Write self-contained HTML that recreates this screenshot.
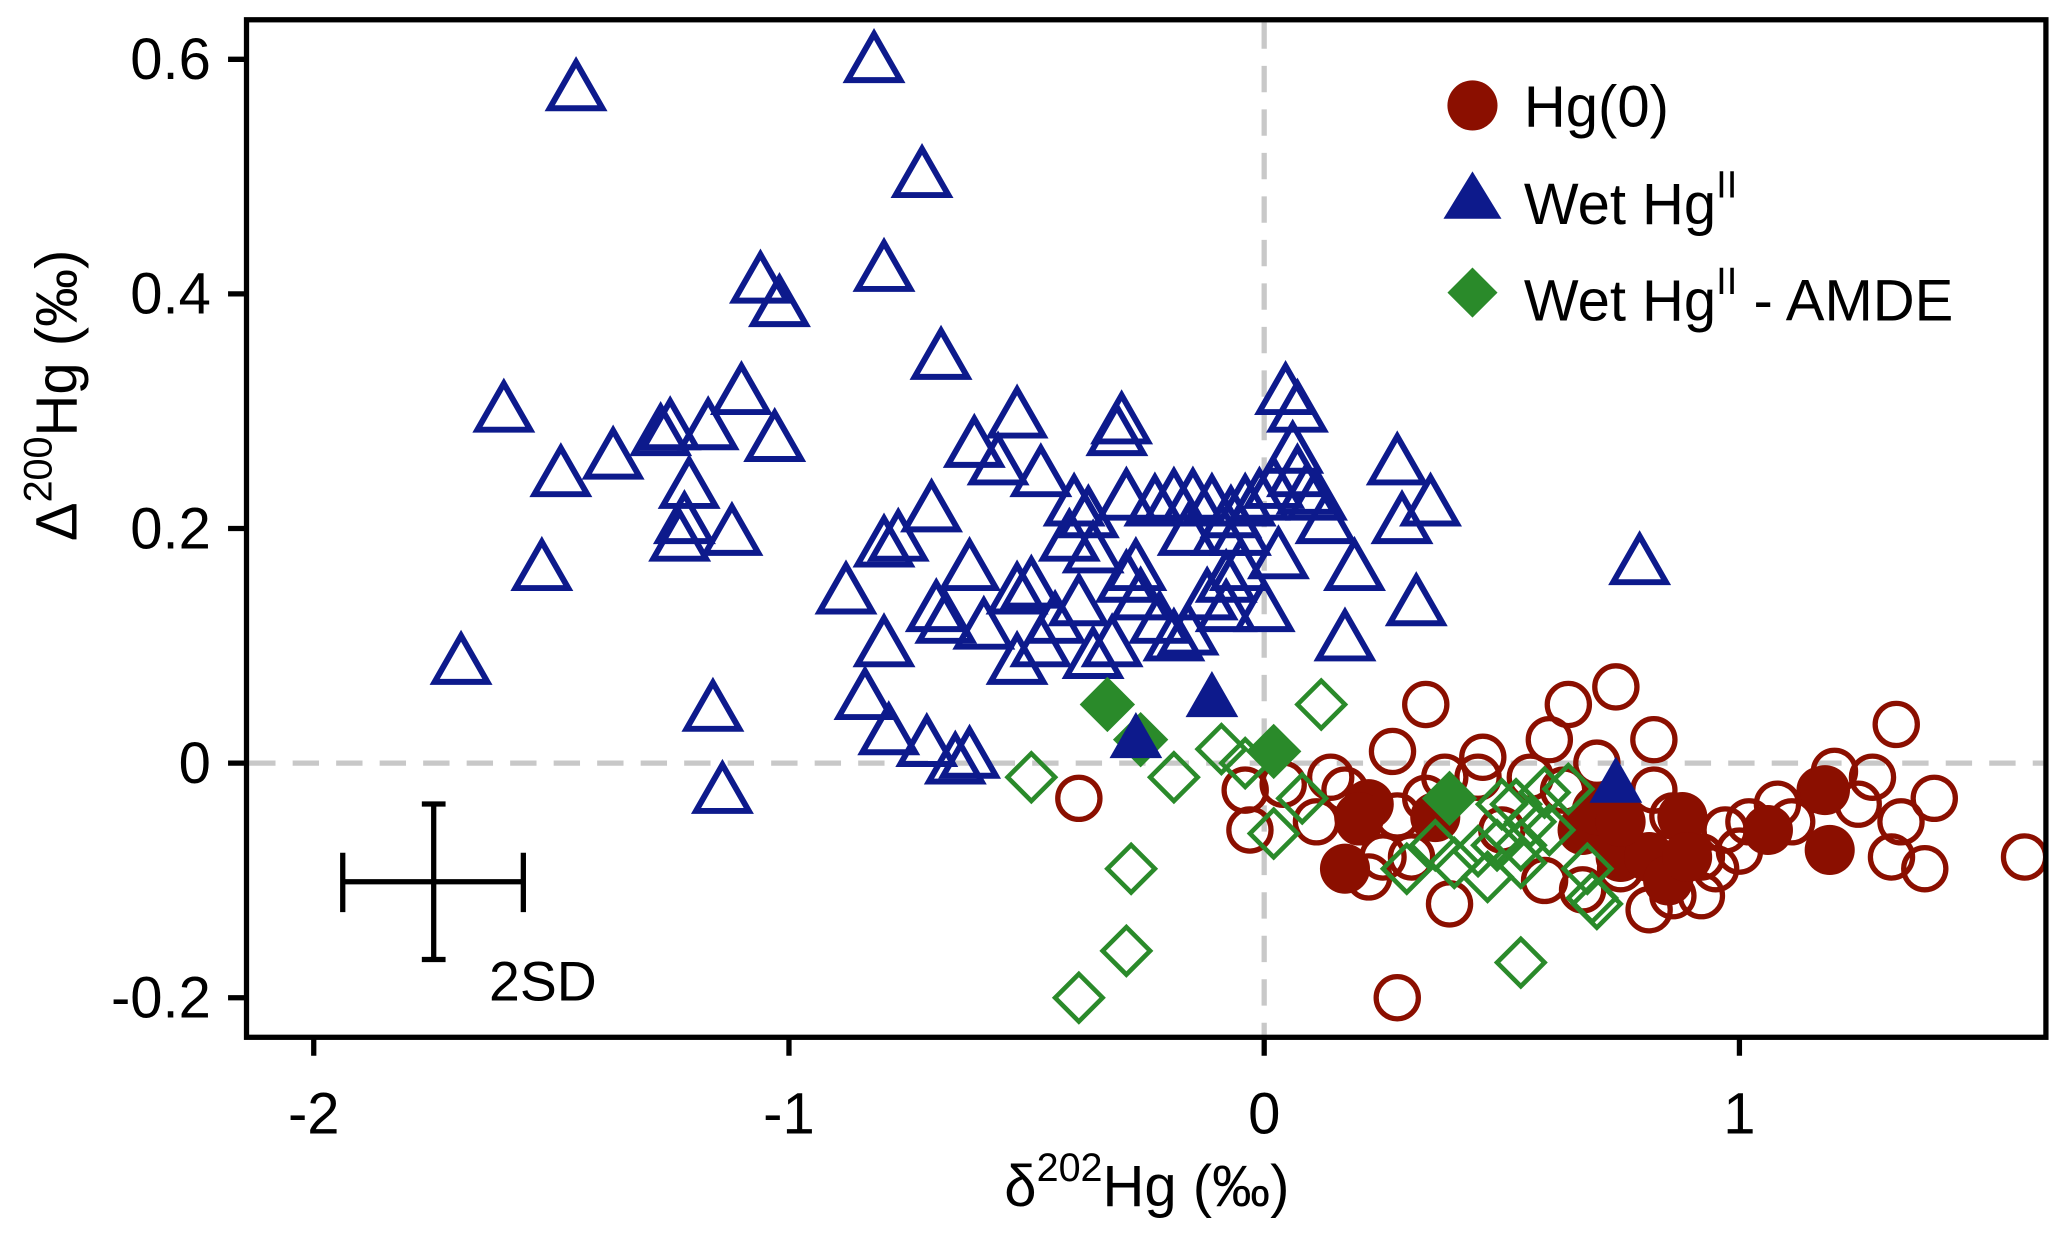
<!DOCTYPE html>
<html><head><meta charset="utf-8"><style>
html,body{margin:0;padding:0;background:#fff;}
svg{display:block;font-family:"Liberation Sans",Arial,sans-serif;}
</style></head><body>
<svg id="chart" width="2067" height="1235" viewBox="0 0 1568 937" preserveAspectRatio="none" xmlns="http://www.w3.org/2000/svg">
<g id="marks"></g>
<rect x="187" y="15" width="1365" height="772" fill="none" stroke="#000" stroke-width="4"/>
<g id="axes"></g>
<g stroke="#000" stroke-width="4">
<line x1="260" y1="669" x2="397" y2="669"/><line x1="260" y1="647" x2="260" y2="692"/><line x1="397" y1="647" x2="397" y2="692"/>
<line x1="329" y1="610" x2="329" y2="728"/><line x1="320" y1="610" x2="338" y2="610"/><line x1="320" y1="728" x2="338" y2="728"/>
</g>
<text x="371" y="759" font-size="42">2SD</text>
<g>
<circle cx="1117" cy="80" r="19" fill="#8b0f00"/>
<text x="1156" y="96" font-size="44">Hg(0)</text>
<polygon points="1117,130 1139,166 1095,166" fill="#0d1a8c"/>
<text x="1156" y="170" font-size="44">Wet Hg<tspan font-size="29" dy="-20">II</tspan></text>
<polygon points="1117,203 1136,222 1117,241 1098,222" fill="#2a8a2a"/>
<text x="1156" y="243" font-size="44">Wet Hg<tspan font-size="29" dy="-20">II</tspan><tspan dy="20"> - AMDE</tspan></text>
</g>
<text x="870" y="915" font-size="44" text-anchor="middle">δ<tspan font-size="30" dy="-19">202</tspan><tspan dy="19">Hg (‰)</tspan></text>
<text transform="translate(58,300) rotate(-90)" font-size="44" text-anchor="middle">Δ<tspan font-size="30" dy="-19">200</tspan><tspan dy="19">Hg (‰)</tspan></text>
</svg>
<script>
const xTicks=[-2,-1,0,1];
const yTicks=[-0.2,0,0.2,0.4,0.6];
const yTickLabels=["-0.2","0","0.2","0.4","0.6"];
const triOpen=[[-1.448,0.574],[-0.821,0.598],[-0.72,0.50],[-0.80,0.42],[-1.06,0.41],[-1.02,0.39],[-0.68,0.345],[-1.60,0.30],[-1.10,0.315],[-1.03,0.275],[-1.37,0.26],[-1.48,0.245],[-1.27,0.28],[-1.25,0.285],[-1.17,0.285],[-1.21,0.235],[-1.22,0.205],[-1.23,0.19],[-1.12,0.195],[-1.52,0.165],[-1.69,0.085],[-1.16,0.045],[-1.14,-0.025],[-0.88,0.145],[-0.80,0.185],[-0.77,0.19],[-0.70,0.215],[-0.61,0.27],[-0.52,0.295],[-0.56,0.255],[-0.47,0.245],[-0.31,0.28],[-0.30,0.29],[-0.62,0.165],[-0.69,0.13],[-0.67,0.12],[-0.59,0.115],[-0.52,0.145],[-0.49,0.15],[-0.44,0.12],[-0.52,0.085],[-0.47,0.10],[-0.80,0.10],[-0.84,0.055],[-0.79,0.025],[-0.71,0.015],[-0.65,0],[-0.62,0.005],[-0.40,0.22],[-0.37,0.21],[-0.41,0.19],[-0.36,0.18],[-0.39,0.135],[-0.32,0.10],[-0.36,0.09],[-0.29,0.225],[-0.27,0.165],[-0.29,0.155],[-0.26,0.14],[-0.22,0.12],[-0.19,0.105],[-0.16,0.11],[-0.23,0.22],[-0.19,0.225],[-0.15,0.225],[-0.11,0.22],[-0.07,0.21],[-0.04,0.22],[-0.16,0.195],[-0.09,0.195],[-0.05,0.195],[-0.08,0.155],[-0.05,0.165],[-0.12,0.14],[-0.08,0.13],[0,0.13],[0.03,0.175],[-0.01,0.225],[0.045,0.315],[0.07,0.30],[0.06,0.265],[0.07,0.245],[0.09,0.23],[0.11,0.225],[0.13,0.205],[0.02,0.235],[0.19,0.165],[0.17,0.105],[0.28,0.255],[0.29,0.205],[0.35,0.22],[0.32,0.135],[0.79,0.17]];
const triFilled=[[-0.11,0.055],[-0.27,0.02],[0.74,-0.018]];
const hgOpen=[[-0.39,-0.03],[0.28,-0.20],[0.34,0.05],[0.64,0.05],[0.74,0.065],[0.60,0.02],[0.82,0.02],[1.33,0.033],[1.41,-0.03],[1.60,-0.08],[1.39,-0.09],[1.32,-0.08],[1.34,-0.05],[1.25,-0.035],[1.28,-0.012],[1.20,-0.007],[1.08,-0.035],[1.02,-0.05],[1.00,-0.075],[0.95,-0.09],[0.92,-0.113],[0.81,-0.125],[0.75,-0.09],[0.67,-0.108],[0.59,-0.10],[0.50,-0.057],[0.45,-0.012],[0.39,-0.12],[0.31,-0.08],[0.25,-0.08],[0.22,-0.097],[0.20,-0.05],[0.17,-0.023],[0.11,-0.05],[0.14,-0.012],[0.04,-0.018],[-0.03,-0.057],[-0.04,-0.023],[0.27,0.01],[0.38,-0.012],[0.46,0.005],[0.56,-0.012],[0.63,-0.023],[0.70,0],[0.82,-0.023],[0.86,-0.045],[0.92,-0.08],[0.97,-0.057],[0.75,-0.074],[0.28,-0.045],[0.34,-0.03],[1.11,-0.05],[1.17,-0.023],[0.86,-0.113]];
const hgFilled=[[0.17,-0.09],[0.22,-0.035],[0.20,-0.046],[0.36,-0.046],[0.67,-0.057],[0.70,-0.04],[0.75,-0.08],[0.81,-0.08],[0.85,-0.10],[0.88,-0.046],[0.89,-0.08],[1.06,-0.057],[1.18,-0.023],[1.19,-0.074],[0.75,-0.05]];
const amdeOpen=[[-0.49,-0.012],[-0.28,-0.09],[-0.29,-0.16],[-0.39,-0.20],[-0.19,-0.012],[-0.09,0.012],[-0.04,0],[0.12,0.05],[0.08,-0.03],[0.02,-0.06],[0.30,-0.09],[0.36,-0.07],[0.40,-0.085],[0.45,-0.075],[0.47,-0.097],[0.50,-0.035],[0.49,-0.07],[0.54,-0.07],[0.56,-0.05],[0.59,-0.025],[0.60,-0.057],[0.64,-0.022],[0.53,-0.035],[0.68,-0.09],[0.69,-0.115],[0.70,-0.12],[0.54,-0.17],[0.54,-0.085]];
const amdeFilled=[[-0.33,0.05],[-0.26,0.02],[0.02,0.01],[0.39,-0.03]];

const NS="http://www.w3.org/2000/svg";
function X(v){return 959+v*360.5;}
function Y(v){return 579-v*890;}
const marks=document.getElementById('marks');
const axes=document.getElementById('axes');
function mk(tag,attrs,parent){const e=document.createElementNS(NS,tag);for(const k in attrs)e.setAttribute(k,attrs[k]);parent.appendChild(e);return e;}

let l=mk('line',{x1:X(0),x2:X(0),y1:17,y2:785,stroke:'#c8c8c8','stroke-width':4,'stroke-dasharray':'20,13'},marks);


l=mk('line',{x1:189,x2:1550,y1:Y(0),y2:Y(0),stroke:'#c8c8c8','stroke-width':4,'stroke-dasharray':'20,13'},marks);



function tri(d,fill,name){const cx=X(d[0]),cy=Y(d[1]);
 const p=mk('polygon',{points:`${cx},${cy-21} ${cx+20},${cy+14} ${cx-20},${cy+14}`,fill:fill?'#0d1a8c':'none',stroke:'#0d1a8c','stroke-width':fill?0:4.5,'stroke-linejoin':'miter'},marks);
 
 }
function circ(d,fill,name){
 const c=mk('circle',{cx:X(d[0]),cy:Y(d[1]),r:fill?19:16,fill:fill?'#8b0f00':'none',stroke:'#8b0f00','stroke-width':fill?0:4},marks);
 
 }
function dia(d,fill,name){const cx=X(d[0]),cy=Y(d[1]),r=fill?21:18;
 const p=mk('polygon',{points:`${cx},${cy-r} ${cx+r},${cy} ${cx},${cy+r} ${cx-r},${cy}`,fill:fill?'#2a8a2a':'none',stroke:'#2a8a2a','stroke-width':fill?0:3.5},marks);
 
 }

triOpen.forEach(d=>tri(d,false,'wet-hg-point'));
hgOpen.forEach(d=>circ(d,false,'hg0-point'));
hgFilled.forEach(d=>circ(d,true,'hg0-mean-point'));
amdeOpen.forEach(d=>dia(d,false,'amde-point'));
amdeFilled.forEach(d=>dia(d,true,'amde-mean-point'));
triFilled.forEach(d=>tri(d,true,'wet-hg-mean-point'));

xTicks.forEach(v=>{
 const t=mk('line',{x1:X(v),x2:X(v),y1:787,y2:801,stroke:'#000','stroke-width':4},axes);
 
 
 const tx=mk('text',{x:X(v),y:860,'font-size':44,'text-anchor':'middle'},axes);
 tx.textContent=String(v);
 
 
});
yTicks.forEach((v,i)=>{
 const t=mk('line',{x1:173,x2:187,y1:Y(v),y2:Y(v),stroke:'#000','stroke-width':4},axes);
 
 
 const tx=mk('text',{x:160,y:Y(v)+15,'font-size':44,'text-anchor':'end'},axes);
 tx.textContent=yTickLabels[i];
 
 
});
</script>
</body></html>
